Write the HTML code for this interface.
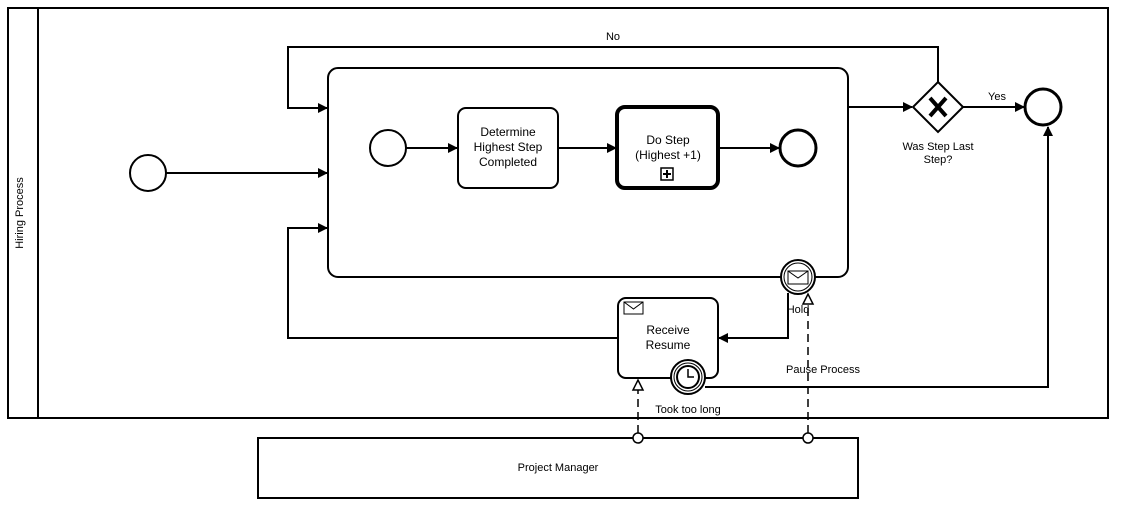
<!DOCTYPE html>
<html><head><meta charset="utf-8"><style>
html,body{margin:0;padding:0;background:#fff;}
svg{display:block;}
text{font-family:"Liberation Sans",Arial,sans-serif;font-size:11px;fill:#000;}
text.t{font-size:12px;}
</style></head><body>
<svg width="1123" height="510" viewBox="0 0 1123 510" xmlns="http://www.w3.org/2000/svg">
<defs>
<marker id="a" markerWidth="10" markerHeight="10" refX="9" refY="5" orient="auto" markerUnits="userSpaceOnUse"><path d="M0,0 L10,5 L0,10 Z" fill="#000"/></marker>
</defs>
<g fill="none" stroke="#000" stroke-width="2">
<rect x="8" y="8" width="1100" height="410"/>
<line x1="38" y1="8" x2="38" y2="418"/>
<rect x="258" y="438" width="600" height="60"/>
<rect x="328" y="68" width="520" height="209" rx="10"/>
<circle cx="148" cy="173" r="18" fill="#fff"/>
<circle cx="388" cy="148" r="18" fill="#fff"/>
<rect x="458" y="108" width="100" height="80" rx="8" fill="#fff"/>
<rect x="617" y="107" width="101" height="81" rx="8" fill="#fff" stroke-width="4"/>
<circle cx="798" cy="148" r="18" fill="#fff" stroke-width="3"/>
<path d="M938,82 L963,107 L938,132 L913,107 Z" fill="#fff"/>
<circle cx="1043" cy="107" r="18" fill="#fff" stroke-width="3"/>
<rect x="618" y="298" width="100" height="80" rx="8" fill="#fff"/>
<path d="M166,173 H327" marker-end="url(#a)"/>
<path d="M406,148 H457" marker-end="url(#a)"/>
<path d="M558,148 H616" marker-end="url(#a)"/>
<path d="M718,148 H779" marker-end="url(#a)"/>
<path d="M848,107 H912" marker-end="url(#a)"/>
<path d="M963,107 H1024" marker-end="url(#a)"/>
<path d="M938,82 V47 H288 V108 H327" marker-end="url(#a)"/>
<path d="M618,338 H288 V228 H327" marker-end="url(#a)"/>
<path d="M788,293 V338 H719" marker-end="url(#a)"/>
<path d="M705,387 H1048 V127" marker-end="url(#a)"/>
</g>
<path d="M930,98 L946,116 M946,98 L930,116" stroke="#000" stroke-width="4"/>
<rect x="661" y="168" width="12" height="12" fill="#fff" stroke="#000" stroke-width="1.5"/>
<path d="M667,170 V178 M663,174 H671" stroke="#000" stroke-width="2"/>
<circle cx="798" cy="277" r="17" fill="#fff" stroke="#000" stroke-width="2"/>
<circle cx="798" cy="277" r="14" fill="#fff" stroke="#000" stroke-width="1"/>
<rect x="788" y="271" width="20" height="13" fill="#fff" stroke="#000" stroke-width="1"/>
<path d="M788,271 L798,278 L808,271" fill="none" stroke="#000" stroke-width="1"/>
<rect x="624" y="302" width="19" height="12" fill="#fff" stroke="#000" stroke-width="1"/>
<path d="M624,302 L633.5,309 L643,302" fill="none" stroke="#000" stroke-width="1"/>
<circle cx="688" cy="377" r="17" fill="#fff" stroke="#000" stroke-width="2"/>
<circle cx="688" cy="377" r="14" fill="#fff" stroke="#000" stroke-width="1"/>
<circle cx="688" cy="377" r="11" fill="#fff" stroke="#000" stroke-width="2"/>
<path d="M688,369 V377 H694" fill="none" stroke="#000" stroke-width="1.5"/>
<g stroke="#000" stroke-width="1.5" fill="none">
<path d="M638,433 V388" stroke-dasharray="8,5"/>
<path d="M808,433 V304" stroke-dasharray="8,5"/>
<path d="M633,390 L638,380 L643,390 Z" fill="#fff"/>
<path d="M803,304 L808,294 L813,304 Z" fill="#fff"/>
<circle cx="638" cy="438" r="5" fill="#fff"/>
<circle cx="808" cy="438" r="5" fill="#fff"/>
</g>
<text x="23" y="213" text-anchor="middle" transform="rotate(-90 23 213)">Hiring Process</text>
<text class="t" x="508" y="136" text-anchor="middle">Determine</text>
<text class="t" x="508" y="151" text-anchor="middle">Highest Step</text>
<text class="t" x="508" y="166" text-anchor="middle">Completed</text>
<text class="t" x="668" y="144" text-anchor="middle">Do Step</text>
<text class="t" x="668" y="159" text-anchor="middle">(Highest +1)</text>
<text x="613" y="40" text-anchor="middle">No</text>
<text x="997" y="100" text-anchor="middle">Yes</text>
<text x="938" y="150" text-anchor="middle">Was Step Last</text>
<text x="938" y="163" text-anchor="middle">Step?</text>
<text class="t" x="668" y="334" text-anchor="middle">Receive</text>
<text class="t" x="668" y="349" text-anchor="middle">Resume</text>
<text x="798" y="313" text-anchor="middle">Hold</text>
<text x="823" y="373" text-anchor="middle">Pause Process</text>
<text x="688" y="413" text-anchor="middle">Took too long</text>
<text x="558" y="471" text-anchor="middle">Project Manager</text>
</svg>
</body></html>
